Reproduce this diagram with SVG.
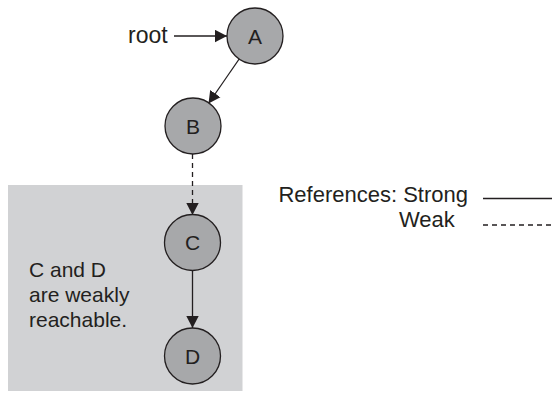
<svg xmlns="http://www.w3.org/2000/svg" width="552" height="400" viewBox="0 0 552 400">
<defs>
<marker id="ah" markerWidth="13" markerHeight="14" refX="12" refY="6.5" orient="auto" markerUnits="userSpaceOnUse">
<path d="M0,0.3 L12,6.5 L0,12.7 Z" fill="#231f20"/>
</marker>
<style>
.node circle{fill:#a7a8aa;stroke:#231f20;stroke-width:1.3}
.node text{font-family:"Liberation Sans",Arial,sans-serif;font-size:21px;fill:#231f20;text-anchor:middle}
.lbl{font-family:"Liberation Sans",Arial,sans-serif;font-size:21px;fill:#231f20}
.edge{stroke:#231f20;stroke-width:1.3;fill:none}
.weak{stroke-dasharray:5 4}
</style>
</defs>
<rect x="8" y="185" width="234.5" height="206" fill="#d1d2d4"/>
<g id="connectors">
<line class="edge" x1="174" y1="36" x2="227" y2="36" marker-end="url(#ah)"/>
<line class="edge" x1="239.5" y1="58.5" x2="208.5" y2="103.5" marker-end="url(#ah)"/>
<line class="edge weak" x1="192.5" y1="154" x2="192.5" y2="215" marker-end="url(#ah)"/>
<line class="edge" x1="192.5" y1="270" x2="192.5" y2="328" marker-end="url(#ah)"/>
</g>
<text class="lbl" x="128" y="43" style="font-size:23px">root</text>
<g id="A" class="node"><circle cx="255" cy="36" r="28"/><text x="255" y="43.5">A</text></g>
<g id="B" class="node"><circle cx="193" cy="126" r="28"/><text x="193" y="133.5">B</text></g>
<g id="C" class="node"><circle cx="192.5" cy="242.5" r="28"/><text x="192.5" y="250">C</text></g>
<g id="D" class="node"><circle cx="192.5" cy="356" r="28"/><text x="192.5" y="363.5">D</text></g>
<text class="lbl" x="29" y="277">C and D</text>
<text class="lbl" x="29" y="302">are weakly</text>
<text class="lbl" x="29" y="327">reachable.</text>
<g id="legend">
<text class="lbl" x="468" y="202" text-anchor="end" style="font-size:22px">References: Strong</text>
<text class="lbl" x="399" y="227" style="font-size:22px">Weak</text>
<line class="edge" x1="483" y1="198.5" x2="552" y2="198.5"/>
<line class="edge weak" x1="483" y1="225" x2="552" y2="225"/>
</g>
</svg>
